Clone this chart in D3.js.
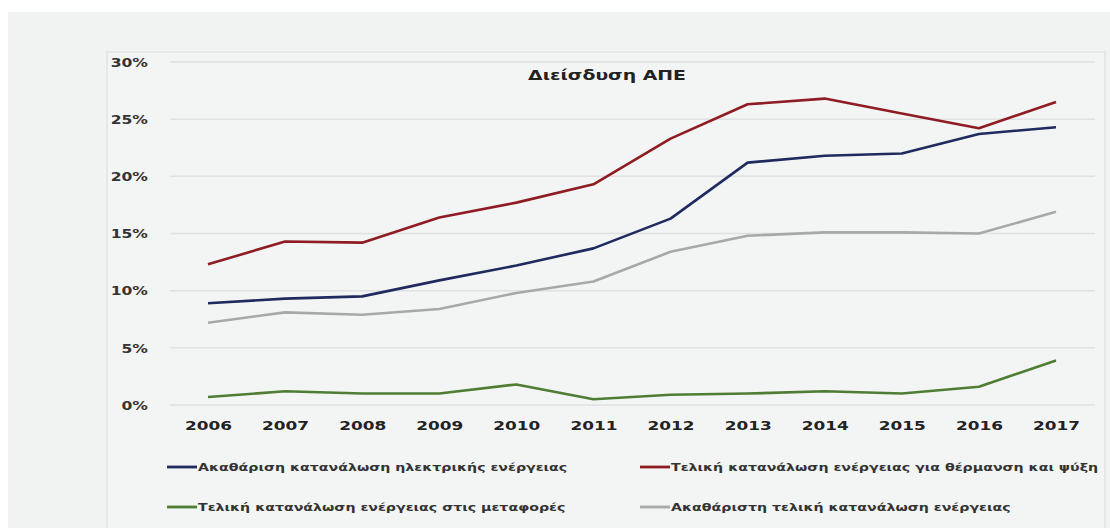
<!DOCTYPE html>
<html>
<head>
<meta charset="utf-8">
<script src="https://cdn.jsdelivr.net/npm/d3@7"></script>
<style>
  html, body { margin: 0; padding: 0; background: #ffffff; }
  svg { display: block; }
</style>
</head>
<body>
<svg id="chart" width="1110" height="528"></svg>
<script>
// Renewable energy penetration by year and consumption type (%)
const years = ["2006","2007","2008","2009","2010","2011","2012","2013","2014","2015","2016","2017"];
const electricity = [8.9, 9.3, 9.5, 10.9, 12.2, 13.7, 16.3, 21.2, 21.8, 22.0, 23.7, 24.3];
const heatingCooling = [12.3, 14.3, 14.2, 16.4, 17.7, 19.3, 23.3, 26.3, 26.8, 25.5, 24.2, 26.5];
const transport = [0.7, 1.2, 1.0, 1.0, 1.8, 0.5, 0.9, 1.0, 1.2, 1.0, 1.6, 3.9];
const grossFinal = [7.2, 8.1, 7.9, 8.4, 9.8, 10.8, 13.4, 14.8, 15.1, 15.1, 15.0, 16.9];
const yTicks = [0, 5, 10, 15, 20, 25, 30];
const seriesNames = [
  "Ακαθάριση κατανάλωση ηλεκτρικής ενέργειας",
  "Τελική κατανάλωση ενέργειας για θέρμανση και ψύξη",
  "Τελική κατανάλωση ενέργειας στις μεταφορές",
  "Ακαθάριστη τελική κατανάλωση ενέργειας"
];

const series = [
  { name: seriesNames[0], values: electricity, color: "#1f2a5e" },
  { name: seriesNames[1], values: heatingCooling, color: "#8e1c22" },
  { name: seriesNames[2], values: transport, color: "#4f7d33" },
  { name: seriesNames[3], values: grossFinal, color: "#a8a8a8" }
];

const svg = d3.select("#chart");
const font = "'DejaVu Sans', Verdana, sans-serif";
const stretch = "scale(1.3,1)"; // wide lettering

// outer panel
svg.append("rect").attr("x", 8).attr("y", 12).attr("width", 1102).attr("height", 516).attr("fill", "#f1f2f2");
// inner chart area
svg.append("rect").attr("x", 107).attr("y", 52).attr("width", 998).attr("height", 480)
  .attr("fill", "#f3f4f4").attr("stroke", "#e6e7e7").attr("stroke-width", 2);

const x = d3.scalePoint().domain(years).range([208, 1056]);
const y = d3.scaleLinear().domain([0, 30]).range([405, 62]);

// gridlines
svg.append("g")
  .selectAll("line")
  .data(yTicks)
  .join("line")
  .attr("x1", 170).attr("x2", 1095)
  .attr("y1", d => y(d)).attr("y2", d => y(d))
  .attr("stroke", "#e0e1e1").attr("stroke-width", 1.5);

// y axis labels
const yAxis = d3.axisLeft(y).tickValues(yTicks).tickSize(0).tickPadding(0).tickFormat(d => d + "%");
svg.append("g").attr("transform", "translate(148,0)").call(yAxis)
  .call(g => g.select(".domain").remove())
  .selectAll("text")
  .attr("font-family", font).attr("font-weight", "bold").attr("font-size", 12)
  .attr("fill", "#333").attr("dy", "0.35em").attr("transform", stretch);

// x axis labels
const xAxis = d3.axisBottom(x).tickSize(0).tickPadding(0);
svg.append("g").attr("transform", "translate(0,421)").call(xAxis)
  .call(g => g.select(".domain").remove())
  .selectAll("text")
  .attr("font-family", font).attr("font-weight", "bold").attr("font-size", 13)
  .attr("fill", "#222").attr("dy", "0.71em").attr("transform", stretch);

// lines
const line = d3.line().x((d, i) => x(years[i])).y(d => y(d));
svg.append("g")
  .selectAll("path")
  .data(series)
  .join("path")
  .attr("d", d => line(d.values))
  .attr("fill", "none")
  .attr("stroke", d => d.color)
  .attr("stroke-width", 2.6)
  .attr("stroke-linejoin", "round");

// title
svg.append("text")
  .attr("transform", `translate(607,80) ${stretch}`)
  .attr("text-anchor", "middle")
  .attr("font-family", font).attr("font-weight", "bold").attr("font-size", 14.5)
  .attr("fill", "#222")
  .text("Διείσδυση ΑΠΕ");

// legend
const legendPos = [[167, 467], [640, 467], [167, 507], [640, 507]];
const legend = svg.append("g")
  .selectAll("g")
  .data(series)
  .join("g")
  .attr("transform", (d, i) => `translate(${legendPos[i][0]},${legendPos[i][1]})`);
legend.append("line").attr("x1", 0).attr("x2", 30).attr("y1", 0).attr("y2", 0)
  .attr("stroke", d => d.color).attr("stroke-width", 2.8);
legend.append("text")
  .attr("transform", "translate(31,0) scale(1.35,1)")
  .attr("dy", "0.35em")
  .attr("font-family", font).attr("font-weight", "bold").attr("font-size", 10.5)
  .attr("fill", "#333")
  .text(d => d.name);
</script>
</body>
</html>
